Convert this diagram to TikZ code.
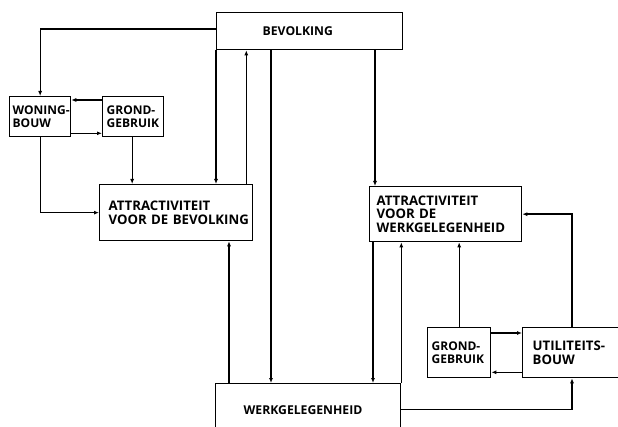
\documentclass[tikz,border=0pt]{standalone}
\usepackage{fontspec}
\setmainfont{Open Sans}
\usetikzlibrary{arrows.meta}
\usetikzlibrary{calc}
\hyphenpenalty=10000
\exhyphenpenalty=10000

\tikzset{
  blok/.style n args={4}{draw, line width=1.3pt, anchor=north west, align=left,
    minimum width=#1, text width=#1-2*#3, inner xsep=#3, minimum height=#2,
    inner ysep=0pt, font=#4},
  pijl/.style={line width=1.3pt, -{Latex[length=5pt,width=4pt]}}
}
\newcommand{\grootletter}{\bfseries\fontsize{13.2}{13.5}\selectfont}
\newcommand{\middenletter}{\bfseries\fontsize{12}{13}\selectfont}
\newcommand{\kleinletter}{\bfseries\fontsize{12.2}{13}\selectfont}

\begin{document}
\begin{tikzpicture}[x=1pt,y=-1pt]
        \useasboundingbox (0,0) rectangle (618,427);
        \begin{scope}
        \clip (0,0) rectangle (618,427);
        % boxes
        \node[blok={186pt}{37pt}{46pt}{\kleinletter}] (bev) at (216,12) {BEVOLKING};
        \node[blok={61pt}{40pt}{3pt}{\middenletter}] (won) at (9,96) {WONING-\\BOUW};
        \node[blok={61pt}{40pt}{4pt}{\middenletter}] (grl) at (102,96) {GROND-\\GEBRUIK};
        \node[blok={153pt}{56pt}{9pt}{\grootletter}] (atb) at (99,184) {ATTRACTIVITEIT\\\mbox{VOOR DE BEVOLKING}};
        \node[blok={152pt}{55pt}{7pt}{\grootletter}] (atw) at (369,186) {ATTRACTIVITEIT\\VOOR DE\\WERKGELEGENHEID};
        \node[blok={63pt}{50pt}{4pt}{\middenletter}] (grr) at (427,327) {GROND-\\GEBRUIK};
        \node[blok={118pt}{50pt}{10pt}{\grootletter}] (utb) at (522,327) {UTILITEITS-\\BOUW};
        \node[blok={185pt}{52pt}{28pt}{\kleinletter}] (wrk) at (215,383) {WERKGELEGENHEID};

        % left part
        \draw[pijl] ([yshift=2]bev.west) -| (won.north);
        \draw[pijl] ([yshift=-4]grl.north west) -- ([yshift=-4]won.north east);
        \draw[pijl] ([yshift=4]won.south east) -- ([yshift=4]grl.south west);
        \draw[pijl] ([xshift=-1]grl.south) -- ([xshift=-1]grl.south |- atb.north);
        \draw[pijl] (won.south) |- (atb.west);
        \draw[pijl] (bev.south west) -- (bev.south west |- atb.north);
        \draw[pijl] ([xshift=-7]atb.north east) -- ([xshift=-7]atb.north east |- bev.south);
        \draw[pijl] ([xshift=14]wrk.north west) -- ([xshift=14]wrk.north west |- atb.south);

        % middle
        \draw[pijl] ([xshift=55]bev.south west) -- ([xshift=55]bev.south west |- wrk.north);
        \draw[pijl] ([xshift=6]atw.north west |- bev.south) -- ([xshift=6]atw.north west);
        \draw[pijl] ([xshift=4]atw.south west) -- ([xshift=4]atw.south west |- wrk.north);
        \draw[pijl] (wrk.north east) -- (wrk.north east |- atw.south);

        % right part
        \draw[pijl] (wrk.east) -| ([xshift=50]utb.south west);
        \draw[pijl] ([xshift=50]utb.north west) |- (atw.east);
        \draw[pijl] (grr.north) -- (grr.north |- atw.south);
        \draw[pijl] ([yshift=-6]grr.north east) -- ([yshift=-6]utb.north west);
        \draw[pijl] ([yshift=6]utb.south west) -- ([yshift=6]grr.south east);
        \end{scope}
\end{tikzpicture}
\end{document}
